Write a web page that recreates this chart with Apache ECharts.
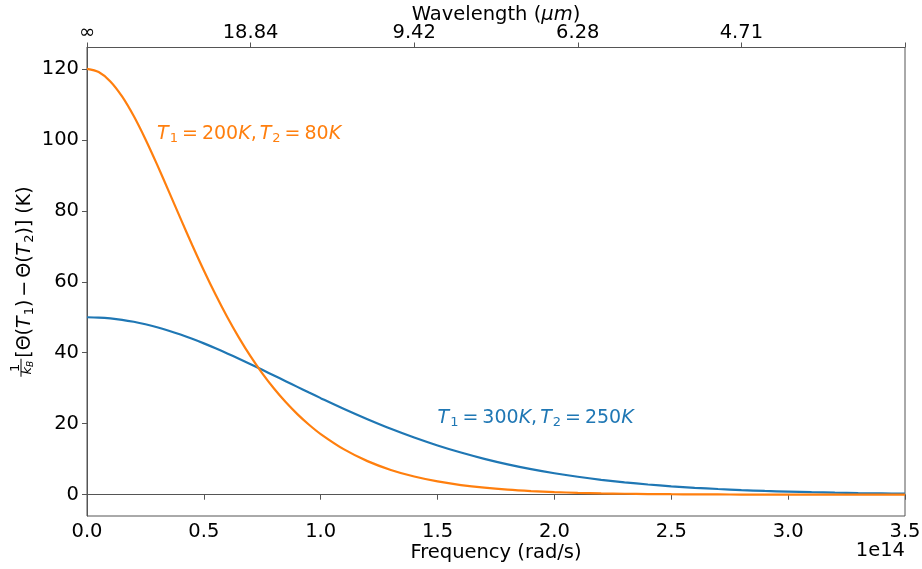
<!DOCTYPE html>
<html>
<head>
<meta charset="utf-8">
<script src="https://cdn.jsdelivr.net/npm/echarts@6/dist/echarts.min.js"></script>
<style>
  html, body { margin: 0; padding: 0; background: #fff; }
  #chart { width: 922px; height: 569px; }
</style>
</head>
<body>
<div id="chart"></div>
<script>
// Angular frequency, in units of 1e14 rad/s
const frequency = [
  0.00, 0.05, 0.10, 0.15, 0.20, 0.25, 0.30, 0.35, 0.40, 0.45, 0.50,
  0.55, 0.60, 0.65, 0.70, 0.75, 0.80, 0.85, 0.90, 0.95, 1.00,
  1.10, 1.20, 1.30, 1.40, 1.50, 1.60, 1.70, 1.80, 1.90, 2.00,
  2.10, 2.20, 2.30, 2.40, 2.50, 2.60, 2.70, 2.80, 2.90, 3.00,
  3.10, 3.20, 3.30, 3.40, 3.50
];

// (1/kB)[Θ(T1) − Θ(T2)] in K, T1 = 300 K, T2 = 250 K
const diff300_250 = [
  50.00, 49.92, 49.68, 49.28, 48.72, 48.02, 47.19, 46.21, 45.13, 43.93, 42.64,
  41.26, 39.81, 38.31, 36.77, 35.18, 33.58, 31.98, 30.38, 28.78, 27.21,
  24.15, 21.27, 18.57, 16.11, 13.88, 11.88, 10.11, 8.56, 7.21, 6.05,
  5.05, 4.20, 3.48, 2.88, 2.37, 1.95, 1.60, 1.30, 1.06, 0.87,
  0.70, 0.57, 0.46, 0.37, 0.30
];

// (1/kB)[Θ(T1) − Θ(T2)] in K, T1 = 200 K, T2 = 80 K
const diff200_80 = [
  120.00, 119.09, 116.45, 112.21, 106.68, 100.16, 92.99, 85.45, 77.84, 70.36, 63.17,
  56.38, 50.06, 44.26, 38.97, 34.20, 29.92, 26.10, 22.71, 19.72, 17.09,
  12.76, 9.46, 6.98, 5.12, 3.74, 2.72, 1.97, 1.42, 1.03, 0.74,
  0.53, 0.38, 0.27, 0.19, 0.14, 0.10, 0.07, 0.05, 0.03, 0.02,
  0.02, 0.01, 0.01, 0.01, 0.00
];

// Tick values / labels
const yTicks = [0, 20, 40, 60, 80, 100, 120];
const wavelengthTicks = ['∞', '18.84', '9.42', '6.28', '4.71', ''];

const FONT = 'DejaVu Sans';
const FS = 19.5;
const AXIS_COLOR = '#555';
const BLUE = '#1f77b4';
const ORANGE = '#ff7f0e';

const chart = echarts.init(document.getElementById('chart'), null, { renderer: 'canvas' });

const toPairs = (ys) => frequency.map((x, i) => [x, ys[i]]);

const tickStyle = { show: true, length: 5, lineStyle: { color: AXIS_COLOR, width: 1 } };
const labelStyle = { color: '#000', fontFamily: FONT, fontSize: FS };

chart.setOption({
  animation: false,
  backgroundColor: '#fff',
  grid: {
    left: 87, right: 17, top: 47.5, bottom: 53,
    outerBoundsMode: 'none', containLabel: false,
    show: true, borderColor: AXIS_COLOR, borderWidth: 1, backgroundColor: 'transparent'
  },
  xAxis: [
    {
      type: 'value', position: 'bottom', min: 0, max: 3.5, interval: 0.5,
      axisLine: { show: true, lineStyle: { color: AXIS_COLOR, width: 1 } },
      axisTick: tickStyle,
      splitLine: { show: false },
      axisLabel: Object.assign({ margin: 6, formatter: (v) => v.toFixed(1) }, labelStyle),
      name: 'Frequency (rad/s)', nameLocation: 'middle', nameGap: 27, nameMoveOverlap: false,
      nameTextStyle: { color: '#000', fontFamily: FONT, fontSize: FS, verticalAlign: 'top' }
    },
    {
      type: 'value', position: 'top', min: 0, max: 5, interval: 1,
      axisLine: { show: true, lineStyle: { color: AXIS_COLOR, width: 1 } },
      axisTick: tickStyle,
      splitLine: { show: false },
      axisLabel: Object.assign({
        margin: 5,
        formatter: (v) => wavelengthTicks[Math.round(v)] || ''
      }, labelStyle),
      name: '{n|Wavelength (}{i|μm}{n|)}', nameLocation: 'middle', nameGap: 23, nameMoveOverlap: false,
      nameTextStyle: {
        color: '#000', fontFamily: FONT, fontSize: FS, verticalAlign: 'bottom',
        rich: {
          n: { color: '#000', fontFamily: FONT, fontSize: FS },
          i: { color: '#000', fontFamily: FONT, fontSize: FS, fontStyle: 'italic' }
        }
      }
    }
  ],
  yAxis: {
    type: 'value', min: -6, max: 126,
    axisLine: { show: true, lineStyle: { color: AXIS_COLOR, width: 1 } },
    axisTick: Object.assign({ customValues: yTicks }, tickStyle),
    splitLine: { show: false },
    axisLabel: Object.assign({ margin: 8, customValues: yTicks, formatter: (v) => String(v) }, labelStyle)
  },
  series: [
    {
      type: 'line', data: toPairs(diff300_250), xAxisIndex: 0, yAxisIndex: 0,
      showSymbol: false, smooth: 0.3,
      lineStyle: { color: BLUE, width: 2.2 }, itemStyle: { color: BLUE }
    },
    {
      type: 'line', data: toPairs(diff200_80), xAxisIndex: 0, yAxisIndex: 0,
      showSymbol: false, smooth: 0.3,
      lineStyle: { color: ORANGE, width: 2.2 }, itemStyle: { color: ORANGE }
    }
  ]
});

// Math-style rich text: italic symbols, lowered subscripts, operator spacing
function mathRich(color, size, opPad, commaPad) {
  const sub = Math.round(size * 0.7);
  return {
    n: { fontFamily: FONT, fontSize: size, fill: color, color: color },
    i: { fontFamily: FONT, fontSize: size, fontStyle: 'italic', fill: color, color: color },
    s: { fontFamily: FONT, fontSize: sub, fill: color, color: color, padding: [Math.round(size * 0.5), 0, 0, 1] },
    e: { fontFamily: FONT, fontSize: size, fill: color, color: color, padding: [0, opPad, 0, opPad] },
    c: { fontFamily: FONT, fontSize: size, fill: color, color: color, padding: [0, commaPad, 0, 0] }
  };
}
function annotation(x, y, text, color) {
  const size = 19;
  const p = chart.convertToPixel({ xAxisIndex: 0, yAxisIndex: 0 }, [x, y]);
  return {
    type: 'text', x: p[0], y: p[1] - 6, silent: true,
    style: {
      text: text, fill: color, fontFamily: FONT, fontSize: size,
      align: 'left', verticalAlign: 'middle', rich: mathRich(color, size, 4, 3)
    }
  };
}

const yMid = (47.5 + 516) / 2;
const Y_TITLE_FS = 19;

chart.setOption({
  graphic: [
    annotation(0.3, 100, '{i|T}{s|1}{e|=}{n|200}{i|K}{c|,}{i|T}{s|2}{e|=}{n|80}{i|K}', ORANGE),
    annotation(1.5, 20, '{i|T}{s|1}{e|=}{n|300}{i|K}{c|,}{i|T}{s|2}{e|=}{n|250}{i|K}', BLUE),
    // offset text of the frequency axis
    {
      type: 'text', x: 905, y: 551, silent: true,
      style: { text: '1e14', fill: '#000', fontFamily: FONT, fontSize: FS, align: 'right', verticalAlign: 'middle' }
    },
    // y-axis title: (1/k_B)[Θ(T1) − Θ(T2)] (K), reading bottom to top
    {
      type: 'group', x: 24, y: yMid, rotation: Math.PI / 2, silent: true,
      children: [
        {
          type: 'text', x: -86, y: -8,
          style: { text: '1', fill: '#000', fontFamily: FONT, fontSize: 13, align: 'center', verticalAlign: 'middle' }
        },
        {
          type: 'line', shape: { x1: -95, y1: -3, x2: -77, y2: -3 },
          style: { stroke: '#000', lineWidth: 1 }
        },
        {
          type: 'text', x: -86, y: 4,
          style: {
            text: '{k|k}{b|B}', fill: '#000', fontFamily: FONT, fontSize: 13,
            align: 'center', verticalAlign: 'middle',
            rich: {
              k: { fontFamily: FONT, fontSize: 13, fontStyle: 'italic', fill: '#000' },
              b: { fontFamily: FONT, fontSize: 9, fontStyle: 'italic', fill: '#000', padding: [6, 0, 0, 0] }
            }
          }
        },
        {
          type: 'text', x: -76, y: 1,
          style: {
            text: '{n|[Θ(}{i|T}{s|1}{n|)}{e|−}{n|Θ(}{i|T}{s|2}{n|)] (K)}', fill: '#000', fontFamily: FONT, fontSize: Y_TITLE_FS,
            align: 'left', verticalAlign: 'middle', rich: mathRich('#000', Y_TITLE_FS, 3, 0)
          }
        }
      ]
    }
  ]
});
</script>
</body>
</html>
